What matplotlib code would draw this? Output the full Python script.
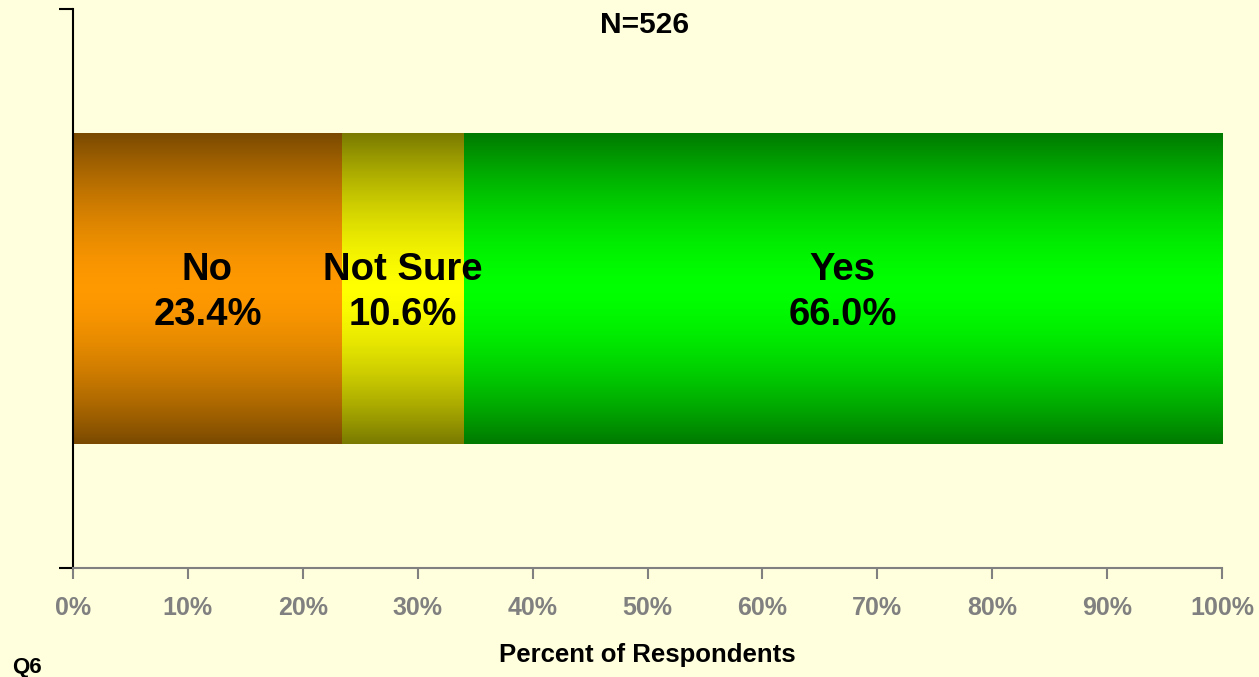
import matplotlib.pyplot as plt
import numpy as np
from matplotlib.colors import LinearSegmentedColormap

categories = ["No", "Not Sure", "Yes"]
values = [23.4, 10.6, 66.0]
edge_colors = ["#7a4a00", "#7a7a00", "#007a00"]
mid_colors = ["#ff9900", "#ffff00", "#00ff00"]
x_ticks = np.arange(0, 101, 10)
x_tick_labels = [f"{t}%" for t in x_ticks]

plt.rcParams['font.family'] = ['Liberation Sans', 'DejaVu Sans']
plt.rcParams['font.weight'] = 'bold'

bg = "#ffffdd"
fig = plt.figure(figsize=(12.59, 6.77), dpi=100)
fig.patch.set_facecolor(bg)
ax = fig.add_axes([73 / 1259, 1 - 568 / 677, (1222 - 73) / 1259, (568 - 9) / 677])
ax.set_facecolor(bg)

bar_bottom, bar_top = 0.222, 0.778
grad = np.abs(np.linspace(-1, 1, 256)).reshape(-1, 1)
grad = 1 - grad ** 1.6

left = 0
for cat, val, c0, c1 in zip(categories, values, edge_colors, mid_colors):
    cmap = LinearSegmentedColormap.from_list(cat, [c0, c1])
    ax.imshow(grad, cmap=cmap, aspect='auto', origin='lower',
              extent=[left, left + val, bar_bottom, bar_top], zorder=2)
    ax.text(left + val / 2, 0.493, f"{cat}\n{val:.1f}%", ha='center', va='center',
            fontsize=27.5, fontweight='bold', color='black', zorder=3, linespacing=1.32)
    left += val

ax.set_xlim(0, 100)
ax.set_ylim(0, 1)

ax.set_xticks(x_ticks)
ax.set_xticklabels(x_tick_labels, fontsize=18, fontweight='bold', color='#808080')
ax.tick_params(axis='x', direction='out', length=8, width=1.5, color='#808080', pad=12)
ax.set_yticks([0, 1])
ax.set_yticklabels([])
ax.tick_params(axis='y', direction='out', length=10, width=1.5, color='black')

ax.spines['top'].set_visible(False)
ax.spines['right'].set_visible(False)
ax.spines['bottom'].set_color('#808080')
ax.spines['bottom'].set_linewidth(1.5)
ax.spines['left'].set_color('black')
ax.spines['left'].set_linewidth(1.5)

ax.set_xlabel("Percent of Respondents", fontsize=18.5, fontweight='bold', labelpad=17)
fig.text(645 / 1259, 1 - 25 / 677, "N=526", ha='center', va='center',
         fontsize=21.5, fontweight='bold')
fig.text(12 / 1259, 1 - 667 / 677, "Q6", ha='left', va='center',
         fontsize=16, fontweight='bold')

fig.savefig("out.png", dpi=100, facecolor=bg)
